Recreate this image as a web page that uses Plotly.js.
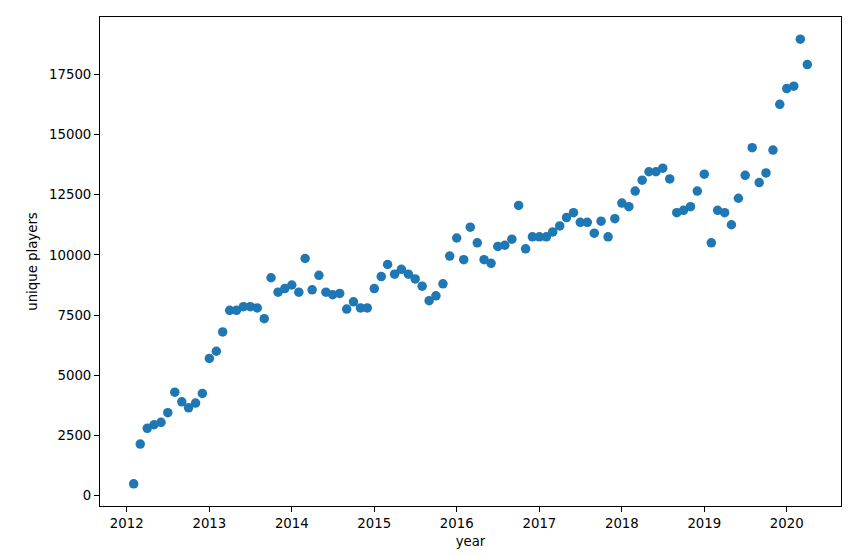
<!DOCTYPE html>
<html>
<head>
<meta charset="utf-8">
<script src="https://cdn.plot.ly/plotly-3.0.1.min.js"></script>
<style>html,body{margin:0;padding:0;background:#fff;}#chart{width:864px;height:555px;}</style>
</head>
<body>
<div id="chart"></div>
<script>
const months = [
  "2012-02-01","2012-03-01","2012-04-01","2012-05-01","2012-06-01","2012-07-01","2012-08-01","2012-09-01","2012-10-01","2012-11-01","2012-12-01",
  "2013-01-01","2013-02-01","2013-03-01","2013-04-01","2013-05-01","2013-06-01","2013-07-01","2013-08-01","2013-09-01","2013-10-01","2013-11-01","2013-12-01",
  "2014-01-01","2014-02-01","2014-03-01","2014-04-01","2014-05-01","2014-06-01","2014-07-01","2014-08-01","2014-09-01","2014-10-01","2014-11-01","2014-12-01",
  "2015-01-01","2015-02-01","2015-03-01","2015-04-01","2015-05-01","2015-06-01","2015-07-01","2015-08-01","2015-09-01","2015-10-01","2015-11-01","2015-12-01",
  "2016-01-01","2016-02-01","2016-03-01","2016-04-01","2016-05-01","2016-06-01","2016-07-01","2016-08-01","2016-09-01","2016-10-01","2016-11-01","2016-12-01",
  "2017-01-01","2017-02-01","2017-03-01","2017-04-01","2017-05-01","2017-06-01","2017-07-01","2017-08-01","2017-09-01","2017-10-01","2017-11-01","2017-12-01",
  "2018-01-01","2018-02-01","2018-03-01","2018-04-01","2018-05-01","2018-06-01","2018-07-01","2018-08-01","2018-09-01","2018-10-01","2018-11-01","2018-12-01",
  "2019-01-01","2019-02-01","2019-03-01","2019-04-01","2019-05-01","2019-06-01","2019-07-01","2019-08-01","2019-09-01","2019-10-01","2019-11-01","2019-12-01",
  "2020-01-01","2020-02-01","2020-03-01","2020-04-01"
];
const uniquePlayers = [
  500, 2150, 2800, 2950, 3050, 3450, 4300, 3900, 3650, 3850, 4250,
  5700, 6000, 6800, 7700, 7700, 7850, 7850, 7800, 7350, 9050, 8450, 8600,
  8750, 8450, 9850, 8550, 9150, 8450, 8350, 8400, 7750, 8050, 7800, 7800,
  8600, 9100, 9600, 9200, 9400, 9200, 9000, 8700, 8100, 8300, 8800, 9950,
  10700, 9800, 11150, 10500, 9800, 9650, 10350, 10400, 10650, 12050, 10250, 10750,
  10750, 10750, 10950, 11200, 11550, 11750, 11350, 11350, 10900, 11400, 10750, 11500,
  12150, 12000, 12650, 13100, 13450, 13450, 13600, 13150, 11750, 11850, 12000, 12650,
  13350, 10500, 11850, 11750, 11250, 12350, 13300, 14450, 13000, 13400, 14350, 16250,
  16900, 17000, 18950, 17900
];
const yTicks = [0, 2500, 5000, 7500, 10000, 12500, 15000, 17500];
const xTitle = "year";
const yTitle = "unique players";

// matplotlib-style 5% data margins
const xs = months.map(d => new Date(d + "T00:00:00Z").getTime());
const xmin = Math.min(...xs), xmax = Math.max(...xs);
const xpad = (xmax - xmin) * 0.05;
const ymin = Math.min(...uniquePlayers), ymax = Math.max(...uniquePlayers);
const ypad = (ymax - ymin) * 0.05;

const font = {family: "DejaVu Sans, sans-serif", size: 13.3, color: "#000"};

Plotly.newPlot("chart", [{
  type: "scatter",
  mode: "markers",
  x: months,
  y: uniquePlayers,
  marker: {color: "#1f77b4", size: 9.5, line: {width: 0}},
  hoverinfo: "x+y"
}], {
  width: 864, height: 555,
  margin: {l: 100, r: 23, t: 17, b: 49},
  paper_bgcolor: "#fff", plot_bgcolor: "#fff",
  font: font,
  showlegend: false,
  xaxis: {
    type: "date",
    range: [xmin - xpad, xmax + xpad],
    tick0: "2012-01-01", dtick: "M12", tickformat: "%Y",
    showgrid: false, zeroline: false,
    showline: true, mirror: true, linecolor: "#000", linewidth: 1,
    ticks: "outside", ticklen: 5, tickwidth: 1, tickcolor: "#000",
    tickfont: font,
    title: {text: xTitle, font: font, standoff: 6},
    automargin: false
  },
  yaxis: {
    range: [ymin - ypad, ymax + ypad],
    tickmode: "array", tickvals: yTicks, ticktext: yTicks.map(String),
    showgrid: false, zeroline: false,
    showline: true, mirror: true, linecolor: "#000", linewidth: 1,
    ticks: "outside", ticklen: 5, tickwidth: 1, tickcolor: "#000",
    tickfont: font,
    title: {text: yTitle, font: font, standoff: 8},
    automargin: false
  }
}, {displayModeBar: false, staticPlot: true});
</script>
</body>
</html>
